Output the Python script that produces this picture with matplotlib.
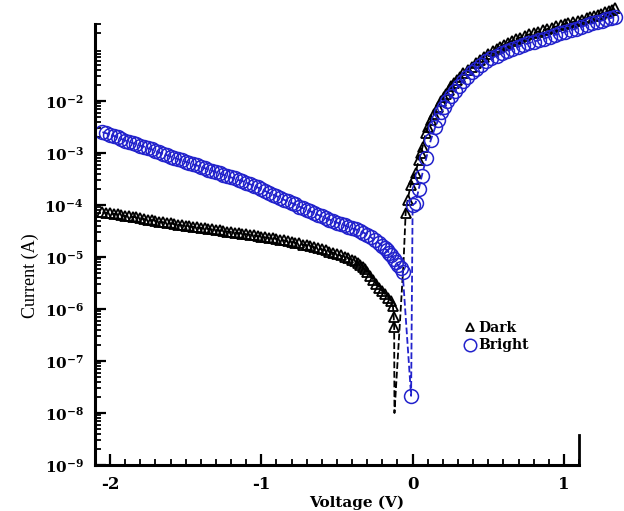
import numpy as np
import matplotlib
matplotlib.use('Agg')
import matplotlib.pyplot as plt
from matplotlib.ticker import LogLocator, FixedLocator, MultipleLocator, NullFormatter

plt.rcParams['mathtext.fontset'] = 'dejavuserif'

# dark I-V curve (voltage in V, log10 of current in A)
dark_v = [-2.05, -2.025, -2.0, -1.975, -1.95, -1.925, -1.9, -1.875, -1.85, -1.825, -1.8, -1.775,
          -1.75, -1.725, -1.7, -1.675, -1.65, -1.625, -1.6, -1.575, -1.55, -1.525, -1.5, -1.475,
          -1.45, -1.425, -1.4, -1.375, -1.35, -1.325, -1.3, -1.275, -1.25, -1.225, -1.2, -1.175,
          -1.15, -1.125, -1.1, -1.075, -1.05, -1.025, -1.0, -0.975, -0.95, -0.925, -0.9, -0.875,
          -0.85, -0.825, -0.8, -0.775, -0.75, -0.725, -0.7, -0.675, -0.65, -0.625, -0.6, -0.575,
          -0.55, -0.525, -0.5, -0.475, -0.45, -0.425, -0.4, -0.38, -0.36, -0.345, -0.33, -0.315,
          -0.3, -0.28, -0.26, -0.24, -0.22, -0.2, -0.18, -0.16, -0.14, -0.13, -0.125, -0.122,
          -0.12, -0.06,
          -0.046, -0.033, -0.013, 0.007, 0.02, 0.04, 0.055, 0.066, 0.086, 0.10, 0.119, 0.14,
          0.166, 0.19, 0.205, 0.22, 0.24, 0.255, 0.272, 0.29, 0.31, 0.335, 0.364, 0.39, 0.42,
          0.445, 0.47, 0.50, 0.53, 0.555, 0.58, 0.605, 0.629, 0.655, 0.68, 0.71, 0.74, 0.77,
          0.80, 0.83, 0.86, 0.89, 0.92, 0.95, 0.98, 1.005, 1.03, 1.06, 1.09, 1.12, 1.15, 1.175,
          1.2, 1.225, 1.245, 1.27, 1.3, 1.32, 1.34]
dark_log = [-4.14, -4.15, -4.16, -4.17, -4.18, -4.20, -4.21, -4.22, -4.23, -4.24, -4.25, -4.27,
            -4.28, -4.29, -4.30, -4.32, -4.33, -4.34, -4.35, -4.37, -4.38, -4.39, -4.40, -4.41,
            -4.42, -4.43, -4.44, -4.45, -4.46, -4.47, -4.48, -4.49, -4.50, -4.51, -4.52, -4.53,
            -4.54, -4.55, -4.56, -4.57, -4.58, -4.60, -4.61, -4.62, -4.63, -4.64, -4.65, -4.67,
            -4.68, -4.70, -4.71, -4.73, -4.74, -4.76, -4.77, -4.79, -4.81, -4.83, -4.85, -4.87,
            -4.90, -4.92, -4.95, -4.97, -5.00, -5.02, -5.05, -5.08, -5.12, -5.16, -5.20, -5.24,
            -5.28, -5.36, -5.44, -5.52, -5.60, -5.66, -5.72, -5.78, -5.85, -5.95, -6.15, -6.35,
            -8.0, -5.1,
            -4.15, -3.90, -3.62, -3.50, -3.38, -3.13, -3.00, -2.88, -2.62, -2.50, -2.37, -2.25,
            -2.12, -2.00, -1.92, -1.86, -1.78, -1.72, -1.65, -1.59, -1.53, -1.46, -1.40, -1.34, -1.27,
            -1.21, -1.15, -1.09, -1.04, -1.00, -0.96, -0.92, -0.88, -0.85, -0.81, -0.78, -0.75, -0.72,
            -0.69, -0.665, -0.64, -0.615, -0.59, -0.565, -0.54, -0.52, -0.50, -0.48, -0.46, -0.435,
            -0.41, -0.39, -0.37, -0.34, -0.32, -0.295, -0.27, -0.245, -0.22]

# bright I-V curve
bright_v = [-2.05, -2.025, -2.0, -1.975, -1.95, -1.925, -1.9, -1.875, -1.85, -1.825, -1.8, -1.775,
            -1.75, -1.725, -1.7, -1.675, -1.65, -1.625, -1.6, -1.575, -1.55, -1.525, -1.5, -1.475,
            -1.45, -1.425, -1.4, -1.375, -1.35, -1.325, -1.3, -1.275, -1.25, -1.225, -1.2, -1.175,
            -1.15, -1.125, -1.1, -1.075, -1.05, -1.025, -1.0, -0.975, -0.95, -0.925, -0.9, -0.875,
            -0.85, -0.825, -0.8, -0.775, -0.75, -0.725, -0.7, -0.675, -0.65, -0.625, -0.6, -0.575,
            -0.55, -0.525, -0.5, -0.475, -0.45, -0.425, -0.4, -0.375, -0.35, -0.325, -0.3, -0.275,
            -0.25, -0.225, -0.2, -0.185, -0.17, -0.155, -0.14, -0.125, -0.11, -0.095, -0.08, -0.066,
            -0.01,
            0.0, 0.02, 0.04, 0.06, 0.09, 0.12, 0.15, 0.17, 0.19, 0.21, 0.23, 0.255, 0.28, 0.305,
            0.33, 0.36, 0.39, 0.42, 0.45, 0.485, 0.52, 0.555, 0.59, 0.625, 0.66, 0.695, 0.73,
            0.765, 0.80, 0.835, 0.87, 0.905, 0.94, 0.975, 1.01, 1.045, 1.08, 1.115, 1.15, 1.185,
            1.22, 1.25, 1.28, 1.31, 1.34]
bright_log = [-2.60, -2.62, -2.65, -2.67, -2.70, -2.73, -2.76, -2.78, -2.81, -2.83, -2.86, -2.88,
              -2.91, -2.93, -2.96, -2.99, -3.02, -3.04, -3.07, -3.09, -3.12, -3.14, -3.17, -3.19,
              -3.22, -3.24, -3.27, -3.29, -3.32, -3.34, -3.37, -3.39, -3.42, -3.44, -3.47, -3.49,
              -3.52, -3.54, -3.57, -3.60, -3.63, -3.66, -3.70, -3.73, -3.77, -3.80, -3.83, -3.86,
              -3.90, -3.93, -3.96, -3.99, -4.03, -4.06, -4.09, -4.12, -4.16, -4.19, -4.22, -4.25,
              -4.28, -4.31, -4.34, -4.36, -4.39, -4.42, -4.45, -4.47, -4.50, -4.53, -4.57, -4.62,
              -4.68, -4.73, -4.79, -4.83, -4.87, -4.92, -4.97, -5.03, -5.10, -5.16, -5.22, -5.29,
              -7.67,
              -4.00, -3.96, -3.70, -3.45, -3.10, -2.75, -2.50, -2.36, -2.22, -2.11, -2.00, -1.90,
              -1.80, -1.71, -1.62, -1.53, -1.45, -1.38, -1.31, -1.24, -1.18, -1.13, -1.08, -1.04,
              -1.00, -0.96, -0.92, -0.89, -0.86, -0.83, -0.80, -0.765, -0.73, -0.70, -0.67, -0.64,
              -0.61, -0.575, -0.54, -0.51, -0.48, -0.455, -0.43, -0.405, -0.38]

ytick_exp = [-9, -8, -7, -6, -5, -4, -3, -2]
xtick_vals = [-2, -1, 0, 1]

dark_i = 10.0 ** np.array(dark_log)
bright_i = 10.0 ** np.array(bright_log)

# no marker on the two points where the dashed line drops to the minimum
dark_mark = [i for i in range(len(dark_v)) if dark_log[i] > -7.0 and i != 85]
bright_mark = list(range(len(bright_v)))

fig = plt.figure(figsize=(6.24, 5.11), dpi=100)
ax = fig.add_axes([0.152, 0.090, 0.776, 0.863])

ax.plot(dark_v, dark_i, color='black', ls='--', lw=1.3, marker='^', ms=7,
        mfc='none', mec='black', mew=1.3, markevery=dark_mark, clip_on=False, label='Dark')
ax.plot(bright_v, bright_i, color='#2222cc', ls='--', lw=1.3, marker='o', ms=10,
        mfc='none', mec='#2222cc', mew=1.1, markevery=bright_mark, clip_on=False, label='Bright')

ax.set_yscale('log')
ax.set_xlim(-2.1, 1.1)
ax.set_ylim(1e-9, 10 ** -0.52)

ax.xaxis.set_major_locator(FixedLocator(xtick_vals))
ax.xaxis.set_minor_locator(MultipleLocator(0.1))
ax.set_xticklabels([str(v) for v in xtick_vals])

ax.yaxis.set_major_locator(LogLocator(base=10, numticks=20))
ax.yaxis.set_minor_locator(LogLocator(base=10, subs=np.arange(2, 10), numticks=20))
ax.yaxis.set_minor_formatter(NullFormatter())
ax.set_yticks([10.0 ** e for e in ytick_exp])
ax.set_yticklabels([r'$\mathbf{10^{%d}}$' % e for e in ytick_exp])

for lab in ax.get_xticklabels():
    lab.set_fontfamily('DejaVu Serif')
    lab.set_fontweight('bold')
ax.tick_params(axis='both', which='major', direction='in', length=8, width=1.6,
               labelsize=11, pad=8)
ax.tick_params(axis='x', which='major', labelsize=12)
ax.tick_params(axis='both', which='minor', direction='in', length=4.5, width=1.3)

ax.spines['top'].set_visible(False)
ax.spines['left'].set_linewidth(2.2)
ax.spines['bottom'].set_linewidth(2.2)
ax.spines['right'].set_linewidth(2.0)
ax.spines['right'].set_bounds(1e-9, 10 ** -8.42)

ax.set_xlabel('Voltage (V)', fontfamily='DejaVu Serif', fontweight='bold', fontsize=11)
ax.xaxis.set_label_coords(0.54, -0.07)
ax.set_ylabel('Current (A)', fontfamily='Liberation Serif', fontsize=13)
ax.yaxis.set_label_coords(-0.115, 0.43)

leg = ax.legend(loc='upper left', bbox_to_anchor=(0.74, 0.355), frameon=False,
                handlelength=0.6, handletextpad=0.3, labelspacing=0.25, markerscale=0.9,
                prop={'family': 'DejaVu Serif', 'weight': 'bold', 'size': 10})
for h in leg.legend_handles:
    h.set_linestyle('none')

fig.savefig('out.png', dpi=100)
